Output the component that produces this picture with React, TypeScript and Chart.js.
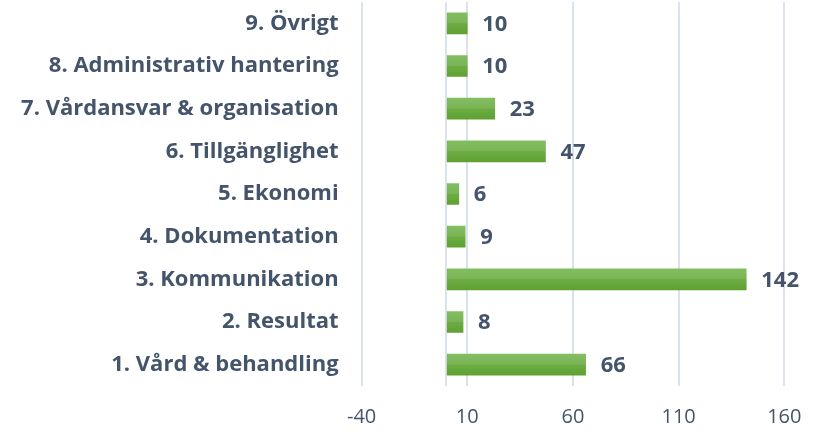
import React, { useEffect, useRef } from 'react';
import { Chart, registerables } from 'chart.js';
Chart.register(...registerables);

const categories = [
  '9. Övrigt',
  '8. Administrativ hantering',
  '7. Vårdansvar & organisation',
  '6. Tillgänglighet',
  '5. Ekonomi',
  '4. Dokumentation',
  '3. Kommunikation',
  '2. Resultat',
  '1. Vård & behandling',
];
const values = [10, 10, 23, 47, 6, 9, 142, 8, 66];
const xTickValues = [-40, 0, 10, 60, 110, 160];
const xMin = -40;
const xMax = 175;

const TEXT = '#44546A';
const GRID = '#DCE2EA';
const FONT = "'Open Sans', sans-serif";

const valueLabels = {
  id: 'valueLabels',
  afterDatasetsDraw(chart: any) {
    const ctx = chart.ctx;
    const meta = chart.getDatasetMeta(0);
    ctx.save();
    ctx.font = `bold 22px ${FONT}`;
    ctx.fillStyle = TEXT;
    ctx.textAlign = 'left';
    ctx.textBaseline = 'middle';
    meta.data.forEach((el: any, i: number) => {
      ctx.fillText(String(values[i]), el.x + 15, el.y + 1);
    });
    ctx.restore();
  },
};

export default function App() {
  const ref = useRef<HTMLCanvasElement | null>(null);
  useEffect(() => {
    document.body.style.margin = '0';
    const canvas = ref.current!;
    const chart = new Chart(canvas, {
      type: 'bar',
      data: {
        labels: categories,
        datasets: [
          {
            data: values,
            barThickness: 21,
            backgroundColor: (c: any) => {
              const ch = c.chart;
              const ys = ch.scales && ch.scales.y;
              if (!ys || c.dataIndex === undefined) return '#70AD47';
              const yc = ys.getPixelForValue(c.dataIndex);
              if (!isFinite(yc)) return '#70AD47';
              const g = ch.ctx.createLinearGradient(0, yc - 10.5, 0, yc + 10.5);
              g.addColorStop(0, '#83BD62');
              g.addColorStop(0.48, '#78B454');
              g.addColorStop(0.52, '#6CAC42');
              g.addColorStop(1, '#5FA131');
              return g;
            },
            borderWidth: 0,
          },
        ],
      },
      options: {
        indexAxis: 'y',
        animation: false,
        responsive: false,
        maintainAspectRatio: false,
        layout: { padding: { top: 2, right: 0, left: 0, bottom: 0 } },
        plugins: { legend: { display: false }, tooltip: { enabled: false } },
        scales: {
          x: {
            type: 'linear',
            min: xMin,
            max: xMax,
            afterBuildTicks: (s: any) => {
              s.ticks = xTickValues.map((v) => ({ value: v }));
            },
            afterFit: (s: any) => {
              s.height = 47;
              s.paddingLeft = 0;
              s.paddingRight = 0;
            },
            grid: { color: GRID, lineWidth: 2, drawTicks: false },
            border: { display: false },
            ticks: {
              autoSkip: false,
              maxRotation: 0,
              padding: 19,
              color: TEXT,
              font: { family: FONT, size: 20 },
              callback: (v: any) => (v === 0 ? '' : String(v)),
            },
          },
          y: {
            afterFit: (s: any) => {
              s.width = 361.6;
              s.paddingTop = 0;
              s.paddingBottom = 0;
            },
            grid: { display: false, drawTicks: false },
            border: { display: false },
            ticks: {
              padding: 23,
              color: TEXT,
              font: { family: FONT, size: 22, weight: 'bold' },
            },
          },
        },
      },
      plugins: [valueLabels],
    });
    chart.update();
    return () => chart.destroy();
  }, []);
  return (
    <div style={{ width: 816, height: 433 }}>
      <canvas ref={ref} width={816} height={433} />
    </div>
  );
}
